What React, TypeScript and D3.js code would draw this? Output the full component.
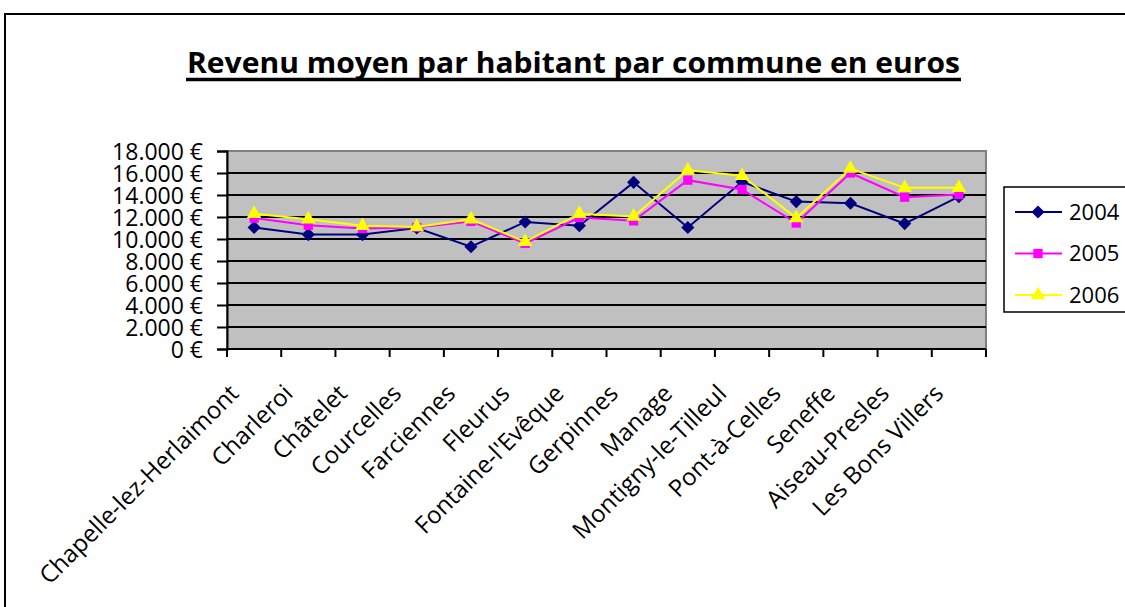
import { useEffect, useRef } from "react";
import * as d3 from "d3";

// communes on the x axis
const communes = [
  "Chapelle-lez-Herlaimont",
  "Charleroi",
  "Châtelet",
  "Courcelles",
  "Farciennes",
  "Fleurus",
  "Fontaine-l'Evêque",
  "Gerpinnes",
  "Manage",
  "Montigny-le-Tilleul",
  "Pont-à-Celles",
  "Seneffe",
  "Aiseau-Presles",
  "Les Bons Villers",
];

const rev2004 = [11050, 10400, 10400, 11000, 9300, 11550, 11200, 15150, 11050, 15200, 13400, 13250, 11400, 13850];
const rev2005 = [11900, 11250, 10950, 11050, 11600, 9600, 11950, 11650, 15350, 14500, 11450, 16000, 13800, 14050];
const rev2006 = [12300, 11800, 11200, 11100, 11800, 9750, 12300, 12050, 16250, 15750, 11900, 16400, 14650, 14650];

const yTicks = [0, 2000, 4000, 6000, 8000, 10000, 12000, 14000, 16000, 18000];

const series = [
  { name: "2004", values: rev2004, color: "#000080", marker: "diamond" },
  { name: "2005", values: rev2005, color: "#ff00ff", marker: "square" },
  { name: "2006", values: rev2006, color: "#ffff00", marker: "triangle" },
];

const W = 1125;
const H = 607;

const App = () => {
  const ref = useRef<SVGSVGElement | null>(null);

  useEffect(() => {
    const svg = d3.select(ref.current);
    svg.selectAll("*").remove();

    const plot = { left: 227, right: 986, top: 151, bottom: 349 };
    const font = "'Open Sans', 'DejaVu Sans', sans-serif";

    // chart frame (cropped at right and bottom)
    svg
      .append("rect")
      .attr("x", 5)
      .attr("y", 14)
      .attr("width", W + 20)
      .attr("height", H + 20)
      .attr("fill", "#fff")
      .attr("stroke", "#000")
      .attr("stroke-width", 2);

    // title
    svg
      .append("text")
      .attr("x", 187)
      .attr("y", 73)
      .attr("font-family", font)
      .attr("font-weight", "bold")
      .attr("font-size", 29)
      .attr("textLength", 773)
      .attr("lengthAdjust", "spacingAndGlyphs")
      .attr("fill", "#000")
      .text("Revenu moyen par habitant par commune en euros");
    svg
      .append("line")
      .attr("x1", 186)
      .attr("x2", 961)
      .attr("y1", 79.5)
      .attr("y2", 79.5)
      .attr("stroke", "#000")
      .attr("stroke-width", 3.5);

    const x = d3
      .scaleBand<string>()
      .domain(communes)
      .range([plot.left, plot.right]);
    const y = d3.scaleLinear().domain([0, 18000]).range([plot.bottom, plot.top]);

    // plot background
    svg
      .append("rect")
      .attr("x", plot.left)
      .attr("y", plot.top)
      .attr("width", plot.right - plot.left)
      .attr("height", plot.bottom - plot.top)
      .attr("fill", "#c0c0c0")
      .attr("stroke", "#808080")
      .attr("stroke-width", 2);

    // gridlines
    svg
      .append("g")
      .selectAll("line")
      .data(yTicks.filter((t) => t > 0 && t < 18000))
      .join("line")
      .attr("x1", plot.left)
      .attr("x2", plot.right)
      .attr("y1", (d) => y(d))
      .attr("y2", (d) => y(d))
      .attr("stroke", "#000")
      .attr("stroke-width", 2);

    // y axis
    const yAxis = svg
      .append("g")
      .attr("transform", `translate(${plot.left},0)`)
      .call(
        d3
          .axisLeft(y)
          .tickValues(yTicks)
          .tickSize(10)
          .tickPadding(14)
          .tickFormat((d) => d3.format(",")(d as number).replace(/,/g, ".") + " €")
      );
    yAxis.select(".domain").attr("stroke", "#000").attr("stroke-width", 2);
    yAxis.selectAll(".tick line").attr("stroke", "#000").attr("stroke-width", 2);
    yAxis
      .selectAll(".tick text")
      .attr("font-family", font)
      .attr("font-size", 23)
      .attr("fill", "#000")
      .attr("dy", "0.36em");

    // x axis with ticks at band boundaries
    const xAxisG = svg.append("g");
    xAxisG
      .append("line")
      .attr("x1", plot.left)
      .attr("x2", plot.right)
      .attr("y1", plot.bottom)
      .attr("y2", plot.bottom)
      .attr("stroke", "#000")
      .attr("stroke-width", 2);
    const bounds = communes.map((c) => x(c) as number).concat([plot.right]);
    xAxisG
      .selectAll("line.tk")
      .data(bounds)
      .join("line")
      .attr("class", "tk")
      .attr("x1", (d) => d)
      .attr("x2", (d) => d)
      .attr("y1", plot.bottom)
      .attr("y2", plot.bottom + 8)
      .attr("stroke", "#000")
      .attr("stroke-width", 2);
    xAxisG
      .selectAll("text")
      .data(communes)
      .join("text")
      .attr(
        "transform",
        (d) => `translate(${(x(d) as number) + x.bandwidth() / 2 - 14},${plot.bottom + 46}) rotate(-45)`
      )
      .attr("text-anchor", "end")
      .attr("font-family", font)
      .attr("font-size", 24)
      .attr("fill", "#000")
      .text((d) => d);

    const cx = (i: number) => (x(communes[i]) as number) + x.bandwidth() / 2;

    const symbolFor = (m: string) =>
      m === "diamond"
        ? d3.symbol().type(d3.symbolDiamond2).size(110)
        : m === "square"
        ? d3.symbol().type(d3.symbolSquare2).size(110)
        : d3.symbol().type(d3.symbolTriangle2).size(150);

    // lines + markers
    series.forEach((s) => {
      const line = d3
        .line<number>()
        .x((_, i) => cx(i))
        .y((d) => y(d));
      svg
        .append("path")
        .datum(s.values)
        .attr("d", line)
        .attr("fill", "none")
        .attr("stroke", s.color)
        .attr("stroke-width", 2);
      svg
        .append("g")
        .selectAll("path")
        .data(s.values)
        .join("path")
        .attr("transform", (d, i) => `translate(${cx(i)},${y(d)})`)
        .attr("d", symbolFor(s.marker)() as string)
        .attr("fill", s.color);
    });

    // legend
    const leg = svg.append("g");
    leg
      .append("rect")
      .attr("x", 1004)
      .attr("y", 187)
      .attr("width", 140)
      .attr("height", 125)
      .attr("fill", "#fff")
      .attr("stroke", "#000")
      .attr("stroke-width", 1.5);
    series.forEach((s, i) => {
      const ly = 212 + i * 41.5;
      leg
        .append("line")
        .attr("x1", 1015)
        .attr("x2", 1062)
        .attr("y1", ly)
        .attr("y2", ly)
        .attr("stroke", s.color)
        .attr("stroke-width", 2);
      leg
        .append("path")
        .attr("transform", `translate(1038,${ly})`)
        .attr("d", symbolFor(s.marker)() as string)
        .attr("fill", s.color);
      leg
        .append("text")
        .attr("x", 1069)
        .attr("y", ly)
        .attr("dy", "0.36em")
        .attr("font-family", font)
        .attr("font-size", 22)
        .attr("fill", "#000")
        .text(s.name);
    });
  }, []);

  return (
    <svg
      ref={ref}
      width={W}
      height={H}
      style={{ position: "absolute", left: 0, top: 0, background: "#fff" }}
    />
  );
};

export default App;
